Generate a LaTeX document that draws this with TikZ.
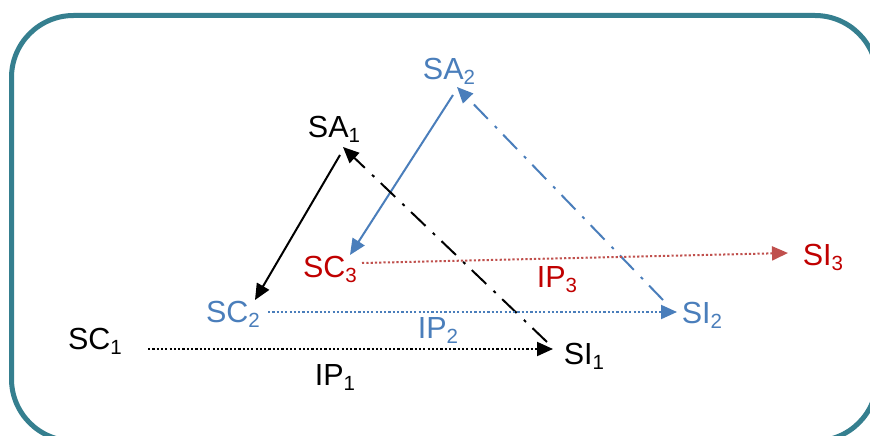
\documentclass[tikz,border=0pt]{standalone}
\usepackage{fontspec}
\setmainfont{Liberation Sans}
\usetikzlibrary{arrows.meta}
\definecolor{frameteal}{HTML}{357F8F}
\definecolor{slblue}{HTML}{4A7EBB}
\definecolor{slred}{HTML}{C00000}
\definecolor{arrred}{HTML}{C0504D}
\newcommand{\subidx}[1]{\raisebox{-5.5pt}{\fontsize{20.5}{20.5}\selectfont #1}}

\begin{document}
\begin{tikzpicture}[x=1pt, y=-1pt,
  lbl/.style={inner sep=0pt, anchor=base, font=\fontsize{30.5}{36}\selectfont},
  arr/.style={-{Triangle[length=16pt, width=14pt]}, line width=2pt},
  dashdot/.style={arr, dash pattern=on 20pt off 9pt on 3pt off 10pt},
  dots/.style={arr, dash pattern=on 2.2pt off 2.1pt}]
\useasboundingbox (0,0) rectangle (870,436);
\clip (0,0) rectangle (870,436);
\fill[white] (0,0) rectangle (870,436);
\draw[frameteal, line width=5pt, rounded corners=62pt] (11.5,15.5) rectangle (877,441);
% first triple
\node[lbl] (sa1) at (334,137) {SA\subidx{1}};
\node[lbl] (sc1) at (95,349) {SC\subidx{1}};
\node[lbl] (si1) at (584,364) {SI\subidx{1}};
\node[lbl] (ip1) at (335,385) {IP\subidx{1}};
% second triple
\node[lbl, text=slblue] (sa2) at (449,79) {SA\subidx{2}};
\node[lbl, text=slblue] (sc2) at (233,322) {SC\subidx{2}};
\node[lbl, text=slblue] (si2) at (702,323) {SI\subidx{2}};
\node[lbl, text=slblue] (ip2) at (438,338) {IP\subidx{2}};
% third pair
\node[lbl, text=slred] (sc3) at (330,277) {SC\subidx{3}};
\node[lbl, text=slred] (si3) at (823,265) {SI\subidx{3}};
\node[lbl, text=slred] (ip3) at (557,287) {IP\subidx{3}};
% connectors
\draw[arr] ([xshift=6pt,yshift=-18pt]sa1.base) -- ([xshift=22pt,yshift=22pt]sc2.base);
\draw[arr, slblue] ([xshift=4pt,yshift=-16pt]sa2.base) -- ([xshift=20pt,yshift=22pt]sc3.base);
\draw[dashdot] ([xshift=-37pt,yshift=22pt]si1.base) -- ([xshift=9pt,yshift=-10pt]sa1.base);
\draw[dashdot, slblue] ([xshift=-39pt,yshift=23pt]si2.base) -- ([xshift=8pt,yshift=-8pt]sa2.base);
\draw[dots] ([xshift=53pt]sc1.base) -- ([xshift=-31pt,yshift=15pt]si1.base);
\draw[dots, slblue] ([xshift=35pt,yshift=10pt]sc2.base) -- ([xshift=-25pt,yshift=11pt]si2.base);
\draw[dots, arrred] ([xshift=32pt,yshift=14pt]sc3.base) -- ([xshift=-35pt,yshift=12pt]si3.base);
\end{tikzpicture}
\end{document}
